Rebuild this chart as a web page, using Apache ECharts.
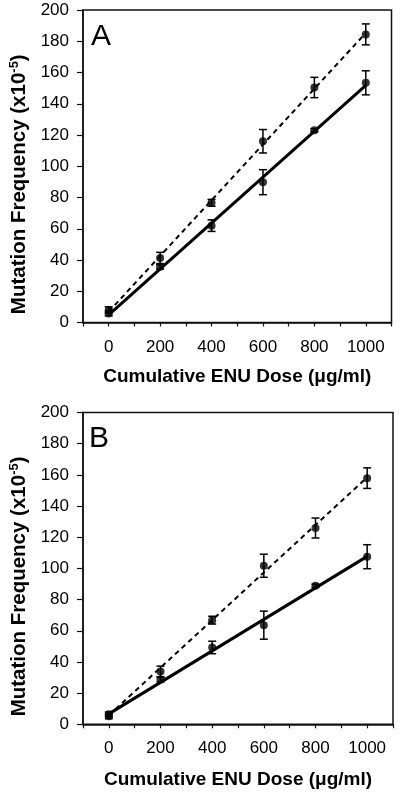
<!DOCTYPE html>
<html>
<head>
<meta charset="utf-8">
<script src="https://cdn.jsdelivr.net/npm/echarts@6/dist/echarts.min.js"></script>
<style>
html,body{margin:0;padding:0;background:#fff;}
#chart{width:400px;height:793px;}
</style>
</head>
<body>
<div id="chart"></div>
<script>
// ---- data ----
const doses = [0, 200, 400, 600, 800, 1000];
const xTickLabels = [0, 200, 400, 600, 800, 1000];

// Panel A
const aSolid      = [5.8, 35.7, 62.0, 89.8, 123.0, 153.4];
const aSolidErr   = [1.5, 1.5, 3.7, 8.0, 1.0, 7.7];
const aDashed     = [8.0, 41.3, 76.6, 116.0, 150.4, 184.4];
const aDashedErr  = [2.0, 3.6, 2.2, 7.5, 6.5, 6.7];
// Panel B
const bSolid      = [5.1, 28.7, 49.3, 63.6, 88.9, 107.5];
const bSolidErr   = [1.5, 1.5, 4.0, 9.0, 1.0, 7.7];
const bDashed     = [6.4, 33.9, 66.8, 101.7, 125.9, 157.9];
const bDashedErr  = [1.5, 3.4, 2.5, 7.4, 6.4, 6.6];

// fitted lines (end points)
const fitDoses    = [0, 1000];
const aSolidFit   = [4.9, 151.7];
const aDashedFit  = [6.9, 185.3];
const bSolidFit   = [6.7, 107.7];
const bDashedFit  = [5.8, 158.4];

const panelLetters = ['A', 'B'];

// ---- chart ----
const FONT = 'Liberation Sans, Arial, Helvetica, sans-serif';
const chart = echarts.init(document.getElementById('chart'), null, {renderer: 'canvas'});

function pairs(xs, ys) { return xs.map((x, i) => [x, ys[i]]); }
function errData(xs, ys, es) { return xs.map((x, i) => [x, ys[i], es[i]]); }

function errorRender(params, api) {
  const x = api.value(0), y = api.value(1), e = api.value(2);
  const top = api.coord([x, y + e]);
  const bot = api.coord([x, y - e]);
  const hw = 4;
  const st = {stroke: '#000', lineWidth: 1.5};
  return {
    type: 'group',
    children: [
      {type: 'line', shape: {x1: top[0], y1: top[1], x2: bot[0], y2: bot[1]}, style: st},
      {type: 'line', shape: {x1: top[0] - hw, y1: top[1], x2: top[0] + hw, y2: top[1]}, style: st},
      {type: 'line', shape: {x1: bot[0] - hw, y1: bot[1], x2: bot[0] + hw, y2: bot[1]}, style: st}
    ]
  };
}

const grids = [
  {left: 77.5, top: 10, width: 314, height: 312.5},
  {left: 79, top: 412.5, width: 314, height: 311.8}
];

function xAxisFor(idx, gap) {
  return {
    gridIndex: idx, type: 'value', min: -100, max: 1100, interval: 100,
    axisLine: {show: true, onZero: false, lineStyle: {color: '#111', width: 1.5}},
    axisTick: {show: true, inside: false, length: 4, lineStyle: {color: '#111', width: 1.2}},
    splitLine: {show: false},
    axisLabel: {
      show: true, margin: 16, color: '#000', fontFamily: FONT, fontSize: 17,
      formatter: v => (xTickLabels.indexOf(v) >= 0 ? String(v) : '')
    },
    name: 'Cumulative ENU Dose (\u03bcg/ml)',
    nameLocation: 'middle', nameGap: gap,
    nameTextStyle: {color: '#000', fontFamily: FONT, fontSize: 19, fontWeight: 'bold'}
  };
}

function yAxisFor(idx) {
  return {
    gridIndex: idx, type: 'value', min: 0, max: 200, interval: 20,
    axisLine: {show: true, onZero: false, lineStyle: {color: '#111', width: 1.5}},
    axisTick: {show: true, inside: false, length: 6, lineStyle: {color: '#111', width: 1.2}},
    splitLine: {show: false},
    axisLabel: {show: true, margin: 14, color: '#000', fontFamily: FONT, fontSize: 17},
    name: '{a|Mutation Frequency (x10}{s|-5}{a|)}',
    nameLocation: 'middle', nameGap: 53,
    nameTextStyle: {
      color: '#000', fontFamily: FONT, fontSize: 20.5, fontWeight: 'bold',
      padding: [0, 36, 0, 0],
      rich: {
        a: {fontFamily: FONT, fontSize: 20.5, fontWeight: 'bold', color: '#000'},
        s: {fontFamily: FONT, fontSize: 13, fontWeight: 'bold', color: '#000', padding: [0, 0, 9, 0]}
      }
    }
  };
}

function panelSeries(idx, solid, solidErr, dashed, dashedErr, solidFit, dashedFit) {
  return [
    {type: 'line', xAxisIndex: idx, yAxisIndex: idx, data: pairs(fitDoses, solidFit),
     showSymbol: false, symbol: 'none', lineStyle: {color: '#000', width: 3, type: 'solid'}, z: 2, silent: true},
    {type: 'line', xAxisIndex: idx, yAxisIndex: idx, data: pairs(fitDoses, dashedFit),
     showSymbol: false, symbol: 'none', lineStyle: {color: '#000', width: 2, type: [5, 4]}, z: 2, silent: true},
    {type: 'custom', xAxisIndex: idx, yAxisIndex: idx, renderItem: errorRender,
     data: errData(doses, solid, solidErr), z: 3, silent: true},
    {type: 'custom', xAxisIndex: idx, yAxisIndex: idx, renderItem: errorRender,
     data: errData(doses, dashed, dashedErr), z: 3, silent: true},
    {type: 'scatter', xAxisIndex: idx, yAxisIndex: idx, data: pairs(doses, solid),
     symbol: 'circle', symbolSize: 8, itemStyle: {color: '#000'}, z: 4, silent: true},
    {type: 'scatter', xAxisIndex: idx, yAxisIndex: idx, data: pairs(doses, dashed),
     symbol: 'circle', symbolSize: 8, itemStyle: {color: '#000'}, z: 4, silent: true}
  ];
}

const option = {
  animation: false,
  backgroundColor: '#fff',
  grid: grids.map(g => Object.assign({show: true, borderColor: '#111', borderWidth: 1.5, backgroundColor: 'transparent'}, g)),
  xAxis: [xAxisFor(0, 45), xAxisFor(1, 46)],
  yAxis: [yAxisFor(0), yAxisFor(1)],
  graphic: [
    {type: 'text', left: 91, top: 22, style: {text: panelLetters[0], font: '30px ' + FONT, fill: '#000'}},
    {type: 'text', left: 89, top: 424, style: {text: panelLetters[1], font: '30px ' + FONT, fill: '#000'}}
  ],
  series: [].concat(
    panelSeries(0, aSolid, aSolidErr, aDashed, aDashedErr, aSolidFit, aDashedFit),
    panelSeries(1, bSolid, bSolidErr, bDashed, bDashedErr, bSolidFit, bDashedFit)
  )
};
chart.setOption(option);
</script>
</body>
</html>
